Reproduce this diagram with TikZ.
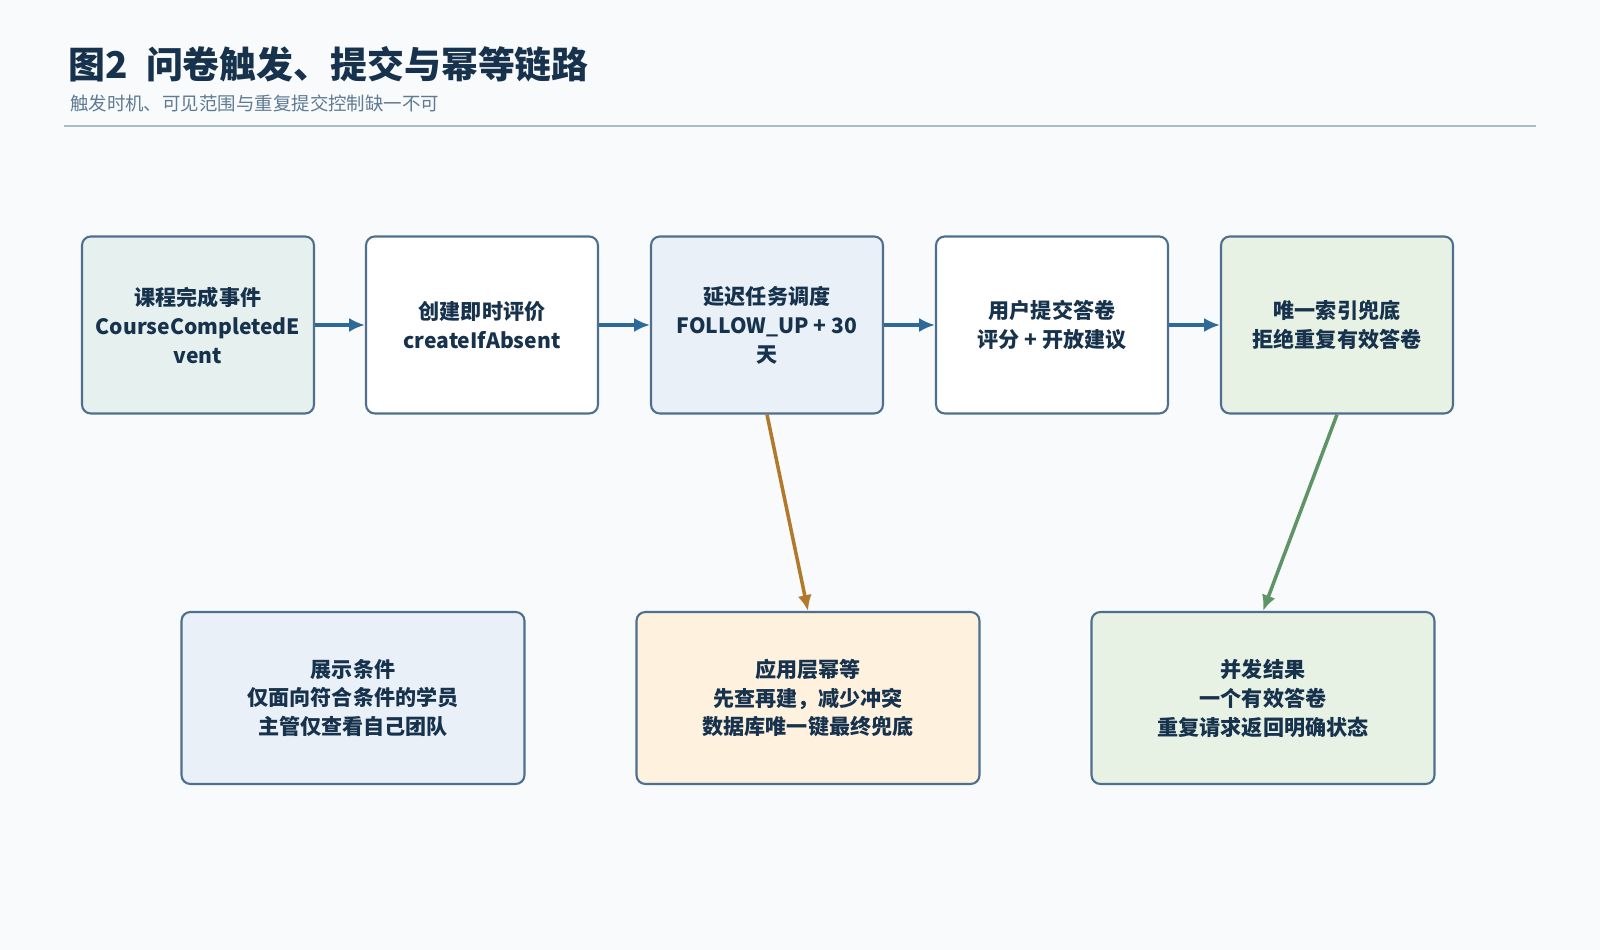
\documentclass[tikz,border=0pt]{standalone}
\usepackage{fontspec}
\setmainfont{Noto Sans CJK SC}
\usetikzlibrary{arrows.meta}
\definecolor{bg}{HTML}{F8FAFC}
\definecolor{edge}{HTML}{4E6F8E}
\definecolor{titlec}{HTML}{17324D}
\definecolor{subc}{HTML}{5F7A93}
\definecolor{rulec}{HTML}{A9BDCB}
\definecolor{flowc}{HTML}{2E6A99}
\definecolor{warnc}{HTML}{B07A2A}
\definecolor{okc}{HTML}{5E9466}
\definecolor{fteal}{HTML}{E6F1EF}
\definecolor{fblue}{HTML}{E9F0F8}
\definecolor{fgreen}{HTML}{E7F2E4}
\definecolor{fcream}{HTML}{FEF2DF}
\tikzset{
  box/.style={draw=edge, line width=1.2pt, rounded corners=5pt, align=center,
    font=\bfseries\fontsize{12}{16.5}\selectfont, text=titlec, inner sep=0pt},
  top/.style={box, minimum width=4.64cm, minimum height=3.54cm},
  low/.style={box, minimum width=6.86cm, minimum height=3.44cm},
  flow/.style={-{Latex[length=9pt,width=8pt]}, line width=2pt, draw=#1},
}
\begin{document}
\begin{tikzpicture}[x=0.02cm, y=0.02cm]
        \fill[bg] (0,0) rectangle (1600,950);
        \node[anchor=west, font=\bfseries\fontsize{21}{24}\selectfont, text=titlec] (title) at (62,886) {图2\hspace{0.5em}问卷触发、提交与幂等链路};
        \node[anchor=west, font=\fontsize{10.5}{12}\selectfont, text=subc] (sub) at (64,847) {触发时机、可见范围与重复提交控制缺一不可};
        \draw[rulec, line width=1.5pt] (64,824) -- (1536,824);

        \node[top, fill=fteal] (event) at (198,625) {课程完成事件\\CourseCompletedE\\vent};
        \node[top, fill=white] (create) at (482,625) {创建即时评价\\createIfAbsent};
        \node[top, fill=fblue] (delay) at (767,625) {延迟任务调度\\FOLLOW\_UP + 30\\天};
        \node[top, fill=white] (submit) at (1052,625) {用户提交答卷\\评分 + 开放建议};
        \node[top, fill=fgreen] (unique) at (1337,625) {唯一索引兜底\\拒绝重复有效答卷};

        \node[low, fill=fblue] (show) at (353,252) {展示条件\\仅面向符合条件的学员\\主管仅查看自己团队};
        \node[low, fill=fcream] (idem) at (808,252) {应用层幂等\\先查再建，减少冲突\\数据库唯一键最终兜底};
        \node[low, fill=fgreen] (result) at (1263,252) {并发结果\\一个有效答卷\\重复请求返回明确状态};

        \draw[flow=flowc] (event) -- (create);
        \draw[flow=flowc] (create) -- (delay);
        \draw[flow=flowc] (delay) -- (submit);
        \draw[flow=flowc] (submit) -- (unique);
        \draw[flow=warnc] (delay.south) -- (idem.north);
        \draw[flow=okc] (unique.south) -- (result.north);
\end{tikzpicture}
\end{document}
